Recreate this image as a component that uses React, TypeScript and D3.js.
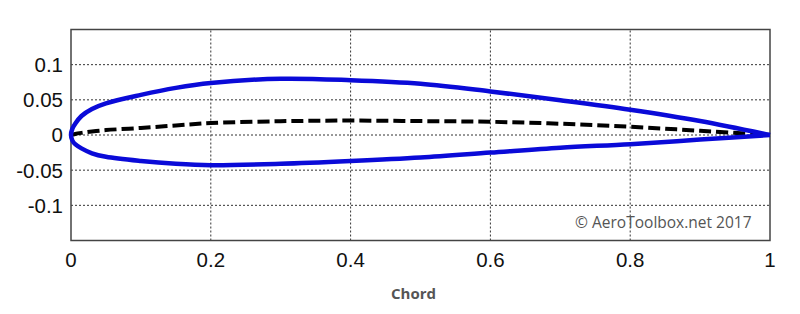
import React from "react";
import * as d3 from "d3";

const chordStations = [0, 0.002, 0.006, 0.015, 0.03, 0.05, 0.1, 0.15, 0.2, 0.3, 0.4, 0.5, 0.6, 0.7, 0.8, 0.9, 1.0];
const upperSurface = [0, 0.009, 0.016, 0.027, 0.037, 0.045, 0.057, 0.067, 0.074, 0.080, 0.078, 0.073, 0.062, 0.0495, 0.036, 0.020, 0];
const lowerSurface = [0, -0.008, -0.013, -0.019, -0.026, -0.031, -0.037, -0.041, -0.043, -0.041, -0.037, -0.032, -0.025, -0.018, -0.013, -0.0065, 0];
const camberLine = [0, 0.0005, 0.0015, 0.003, 0.005, 0.007, 0.010, 0.0135, 0.017, 0.0196, 0.0205, 0.0198, 0.0188, 0.016, 0.0117, 0.006, 0];

const xTicks = [0, 0.2, 0.4, 0.6, 0.8, 1];
const xTickLabels = ["0", "0.2", "0.4", "0.6", "0.8", "1"];
const yTicks = [0.1, 0.05, 0, -0.05, -0.1];
const yTickLabels = ["0.1", "0.05", "0", "-0.05", "-0.1"];

const W = 800;
const H = 314;
const margin = { left: 71, right: 30, top: 29.5, bottom: 73.5 };

export default function App() {
  const x = d3.scaleLinear().domain([0, 1]).range([margin.left, W - margin.right]);
  const y = d3.scaleLinear().domain([-0.15, 0.15]).range([H - margin.bottom, margin.top]);

  const outline: [number, number][] = [];
  for (let i = chordStations.length - 1; i >= 0; i--) outline.push([chordStations[i], upperSurface[i]]);
  for (let i = 1; i < chordStations.length; i++) outline.push([chordStations[i], lowerSurface[i]]);

  const line = d3
    .line<[number, number]>()
    .x((d) => x(d[0]))
    .y((d) => y(d[1]))
    .curve(d3.curveCatmullRom.alpha(0.5));

  const camber: [number, number][] = chordStations.map((c, i) => [c, camberLine[i]]);

  const [x0, x1] = x.range();
  const [y0, y1] = y.range();
  const tickFont = "'Liberation Sans', Arial, sans-serif";

  return (
    <div style={{ position: "absolute", left: 0, top: 0 }}>
      <svg width={W} height={H} style={{ display: "block", background: "#fff" }}>
        <rect x={0} y={0} width={W} height={H} fill="#fff" />
        {xTicks.slice(1, -1).map((t) => (
          <line key={"gx" + t} x1={x(t)} x2={x(t)} y1={y0} y2={y1} stroke="#333" strokeWidth={1} strokeDasharray="2,2" />
        ))}
        {yTicks.map((t) => (
          <line key={"gy" + t} x1={x0} x2={x1} y1={y(t)} y2={y(t)} stroke="#333" strokeWidth={1} strokeDasharray="2,2" />
        ))}
        <rect x={x0} y={y1} width={x1 - x0} height={y0 - y1} fill="none" stroke="#444" strokeWidth={1.5} />
        <path d={line(camber) || ""} fill="none" stroke="#000" strokeWidth={4} strokeDasharray="12,5" />
        <path d={line(outline) || ""} fill="none" stroke="#0a0ad8" strokeWidth={4.5} strokeLinejoin="round" />
        {yTicks.map((t, i) => (
          <text key={"ty" + t} x={x0 - 8} y={y(t)} dy="0.36em" textAnchor="end" fontFamily={tickFont} fontSize={20.5} fill="#111">
            {yTickLabels[i]}
          </text>
        ))}
        {xTicks.map((t, i) => (
          <text key={"tx" + t} x={x(t)} y={266.5} textAnchor="middle" fontFamily={tickFont} fontSize={20.5} fill="#111">
            {xTickLabels[i]}
          </text>
        ))}
        <text x={413.5} y={299} textAnchor="middle" fontFamily="'Open Sans', sans-serif" fontWeight="bold" fontSize={15} fill="#555">
          Chord
        </text>
        <text x={751.5} y={227.5} textAnchor="end" fontFamily="'Open Sans', sans-serif" fontSize={15.5} fill="#555">
          © AeroToolbox.net 2017
        </text>
      </svg>
    </div>
  );
}
